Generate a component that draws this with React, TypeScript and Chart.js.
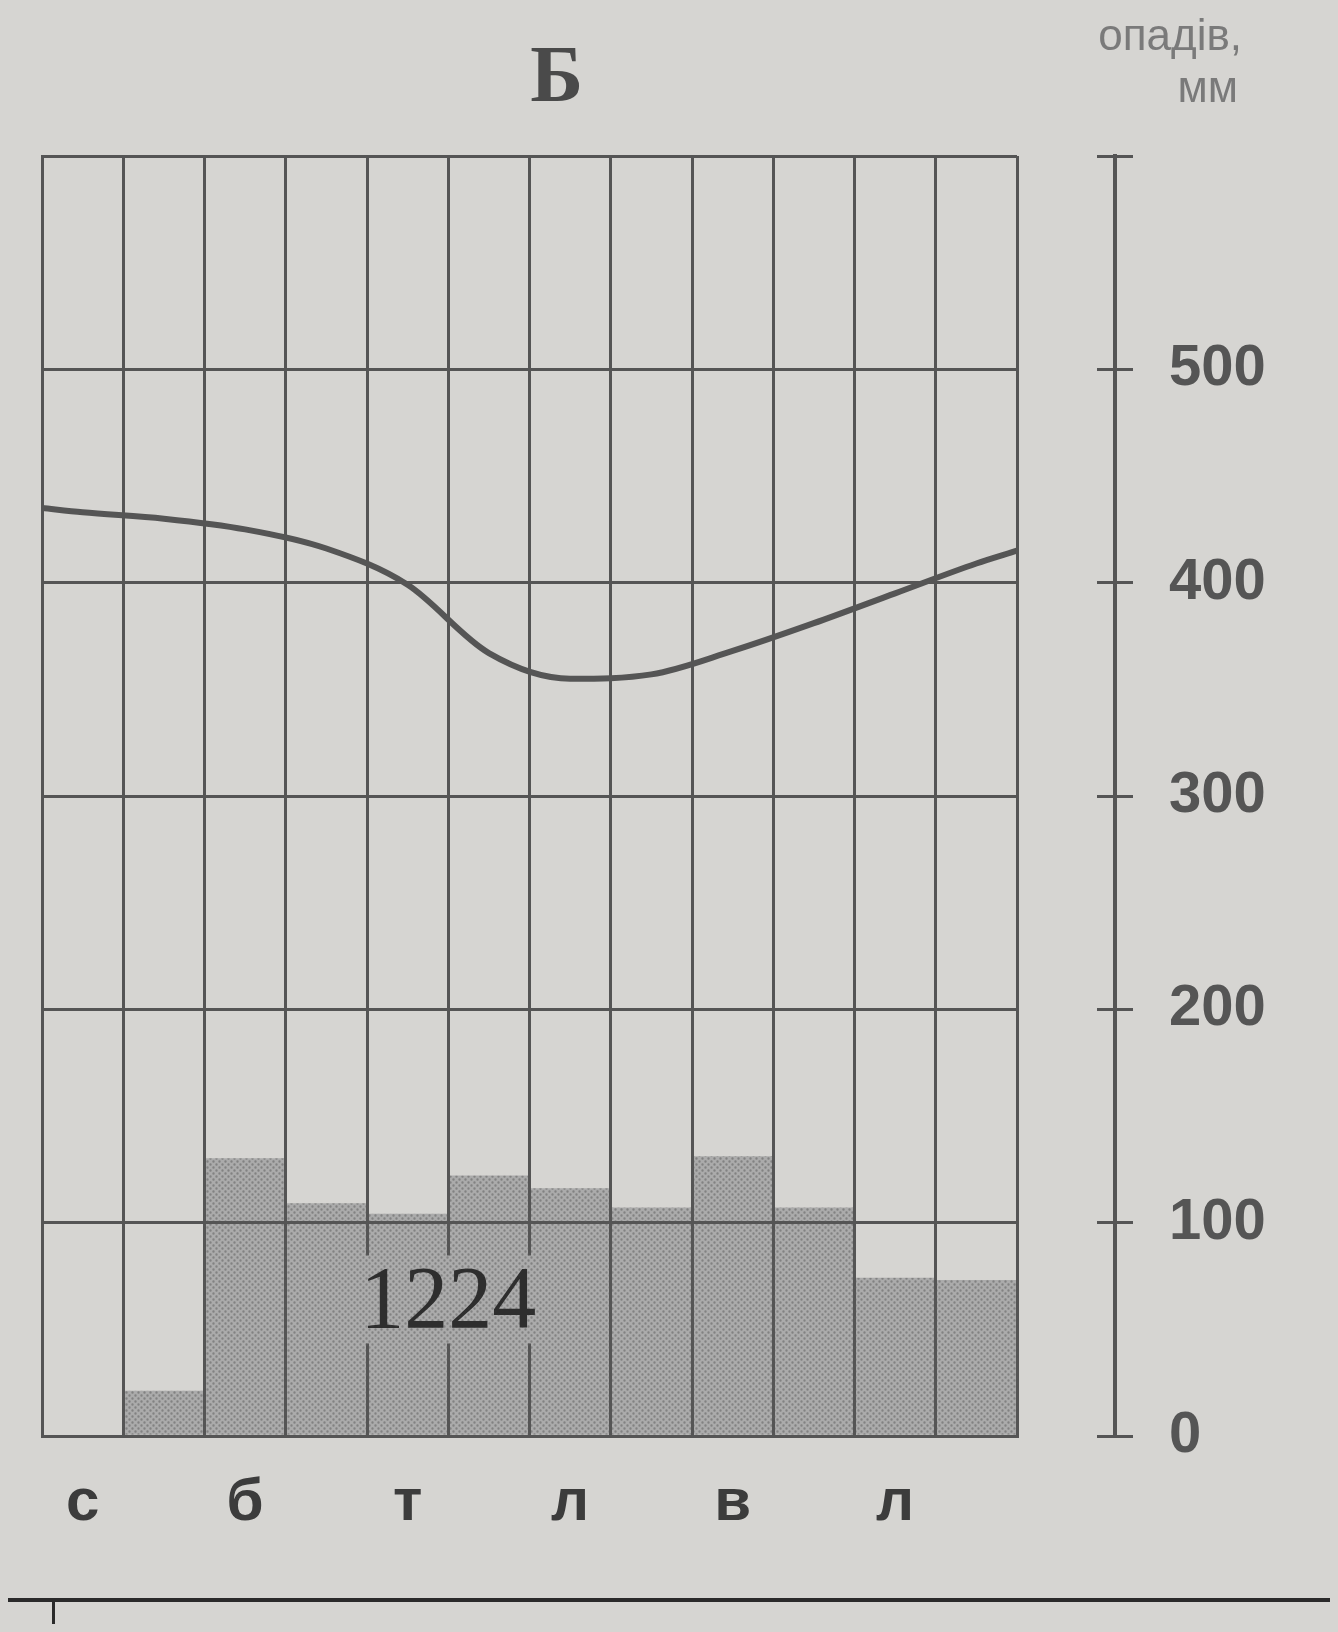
import React, { useEffect, useRef } from "react";
import { Chart, registerables } from "chart.js";

Chart.register(...registerables);

// ---- data ----
const months = ["с", "л", "б", "к", "т", "ч", "л", "с", "в", "ж", "л", "г"];
const precipitation = [0, 21, 130, 109, 104, 122, 116, 107, 131, 107, 74, 73]; // mm
const temperature = [23.3, 23.0, 22.5, 21.6, 19.9, 16.7, 15.5, 15.7, 16.8, 18.1, 19.5, 20.9]; // °C
const temperatureStartEdge = 23.5;
const temperatureEndEdge = 21.5;
const precipTicks = [0, 100, 200, 300, 400, 500];
const annualTotal = "1224";
const titleText = "Б";
const unitsLine1 = "опадів,";
const unitsLine2 = "мм";

const PAPER = "#d6d5d2";
const INK = "#555555";

function makePattern(): CanvasPattern | string {
  const c = document.createElement("canvas");
  c.width = 6;
  c.height = 6;
  const g = c.getContext("2d");
  if (!g) return "#a8a8a8";
  g.fillStyle = "#ababab";
  g.fillRect(0, 0, 6, 6);
  g.fillStyle = "#828282";
  g.beginPath();
  g.arc(1.5, 1.5, 1.2, 0, Math.PI * 2);
  g.arc(4.5, 4.5, 1.2, 0, Math.PI * 2);
  g.fill();
  const p = g.createPattern(c, "repeat");
  return p || "#a8a8a8";
}

export default function App() {
  const ref = useRef<HTMLCanvasElement | null>(null);

  useEffect(() => {
    document.body.style.background = PAPER;
    const canvas = ref.current;
    if (!canvas) return;
    const pattern = makePattern();

    const linePoints = [
      { x: 0, y: temperatureStartEdge },
      ...temperature.map((t, i) => ({ x: i + 0.5, y: t })),
      { x: 12, y: temperatureEndEdge },
    ];

    const textPlugin = {
      id: "texts",
      afterDraw(chart: any) {
        const { ctx, chartArea, scales } = chart;
        ctx.save();
        // title
        ctx.font = 'bold 80px "Liberation Serif"';
        ctx.fillStyle = "#4a4a4a";
        ctx.textAlign = "center";
        ctx.textBaseline = "middle";
        ctx.fillText(titleText, chartArea.left + chartArea.width * 0.528, 72);

        // units
        ctx.font = '44px "Liberation Sans"';
        ctx.fillStyle = "#7a7a7a";
        ctx.textAlign = "right";
        ctx.textBaseline = "alphabetic";
        ctx.fillText(unitsLine1, chart.width - 88, 42);
        ctx.fillText(unitsLine2, chart.width - 92, 94);

        // annual total with plain patterned box
        const xs = scales.xT;
        const ys = scales.y;
        const cx = xs.getPixelForValue(5.0);
        const cy = ys.getPixelForValue(64);
        ctx.font = '88px "Liberation Serif"';
        const w = ctx.measureText(annualTotal).width;
        ctx.fillStyle = pattern as any;
        ctx.fillRect(cx - w / 2 - 12, cy - 44, w + 24, 88);
        ctx.fillStyle = "#2e2e2e";
        ctx.textAlign = "center";
        ctx.textBaseline = "middle";
        ctx.fillText(annualTotal, cx, cy + 4);
        ctx.restore();
      },
    };

    const chart = new Chart(canvas, {
      type: "bar",
      data: {
        labels: months,
        datasets: [
          {
            type: "line",
            label: "t",
            data: linePoints as any,
            xAxisID: "xT",
            yAxisID: "yT",
            borderColor: "#555555",
            borderWidth: 6,
            pointRadius: 0,
            tension: 0.4,
            cubicInterpolationMode: "monotone",
            fill: false,
            order: 0,
          } as any,
          {
            type: "bar",
            label: "p",
            data: precipitation,
            xAxisID: "x",
            yAxisID: "y",
            backgroundColor: pattern as any,
            borderWidth: 0,
            categoryPercentage: 1,
            barPercentage: 1,
            grouped: false,
            order: 1,
          } as any,
        ],
      },
      options: {
        animation: false,
        responsive: true,
        maintainAspectRatio: false,
        layout: { padding: { left: 34, right: 45, top: 148, bottom: 18 } },
        plugins: {
          legend: { display: false },
          tooltip: { enabled: false },
          title: { display: false },
        },
        scales: {
          x: {
            type: "category",
            position: "bottom",
            offset: true,
            grid: {
              offset: true,
              color: INK,
              lineWidth: 3,
              drawTicks: false,
              z: 1,
            },
            border: { display: true, color: INK, width: 3, z: 1 },
            ticks: {
              autoSkip: false,
              maxRotation: 0,
              padding: 31,
              color: "#3c3c3c",
              font: { family: "Liberation Sans", size: 60, weight: "bold" },
              callback: (_v: any, i: number) => (i % 2 === 0 ? months[i] : ""),
            },
          },
          xT: {
            type: "linear",
            display: false,
            offset: false,
            min: 0,
            max: 12,
            grid: { offset: false },
          },
          y: {
            type: "linear",
            position: "left",
            min: 0,
            max: 600,
            ticks: { display: false, stepSize: 100 },
            grid: { color: INK, lineWidth: 3, drawTicks: false, z: 1 },
            border: { display: true, color: INK, width: 3, z: 1 },
            afterFit: (s: any) => {
              s.width = 0;
            },
          },
          yT: { type: "linear", display: false, min: -20, max: 40 },
          ySpace: {
            type: "linear",
            position: "right",
            weight: 0,
            min: 0,
            max: 600,
            grid: { display: false },
            border: { display: false },
            ticks: { display: false },
            afterFit: (s: any) => {
              s.width = 80;
            },
          },
          yMark: {
            type: "linear",
            position: "right",
            weight: 1,
            min: 0,
            max: 600,
            grid: {
              display: true,
              drawOnChartArea: false,
              drawTicks: true,
              tickLength: 18,
              color: INK,
              lineWidth: 3,
            },
            border: { display: false },
            ticks: { display: false, stepSize: 100 },
            afterFit: (s: any) => {
              s.width = 18;
            },
          },
          yP: {
            type: "linear",
            position: "right",
            weight: 2,
            min: 0,
            max: 600,
            grid: {
              display: true,
              drawOnChartArea: false,
              drawTicks: true,
              tickLength: 18,
              color: INK,
              lineWidth: 3,
            },
            border: { display: true, color: INK, width: 4 },
            ticks: {
              stepSize: 100,
              padding: 36,
              color: "#555555",
              font: { family: "Liberation Sans", size: 58, weight: "bold" },
              callback: (v: any) => (precipTicks.includes(Number(v)) ? String(v) : ""),
            },
            afterFit: (s: any) => {
              s.width = 170;
            },
          },
        },
      },
      plugins: [textPlugin],
    });

    return () => chart.destroy();
  }, []);

  return (
    <div style={{ position: "relative", width: 1322, height: 1616, background: PAPER }}>
      <div style={{ position: "absolute", left: 0, top: 0, width: 1322, height: 1580 }}>
        <canvas ref={ref} />
      </div>
      <div
        style={{
          position: "absolute",
          left: -8,
          top: 1590,
          width: 1338,
          height: 0,
          borderTop: "4px solid #2a2a2a",
        }}
      />
      <div
        style={{
          position: "absolute",
          left: 44,
          top: 1592,
          width: 0,
          height: 24,
          borderLeft: "3px solid #2a2a2a",
        }}
      />
    </div>
  );
}
